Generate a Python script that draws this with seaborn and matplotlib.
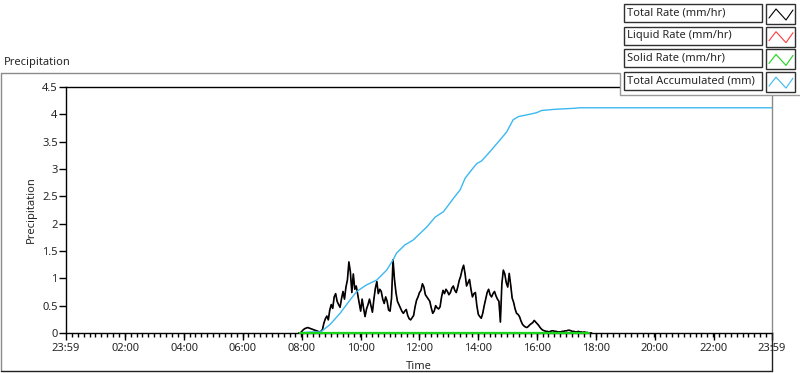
import pandas as pd
import matplotlib
matplotlib.use("Agg")
import matplotlib.pyplot as plt
import matplotlib.dates as mdates
from matplotlib.lines import Line2D
from matplotlib.patches import Rectangle
from matplotlib.ticker import FixedLocator
import seaborn as sns

# --- data ---
start = pd.Timestamp("2020-01-01 23:59")
end = pd.Timestamp("2020-01-02 23:59")
rate_start = pd.Timestamp("2020-01-02 07:54")   # rate samples every 3 min from here

total_rate = [
    0, 0, 0.03, 0.06, 0.08, 0.09, 0.10, 0.09, 0.08, 0.07,
    0.06, 0.05, 0.04, 0.03, 0.02, 0.03, 0.06, 0.18, 0.26, 0.31,
    0.24, 0.42, 0.52, 0.45, 0.66, 0.72, 0.58, 0.52, 0.47, 0.63,
    0.76, 0.62, 0.84, 0.97, 1.30, 1.12, 0.74, 1.08, 0.80, 0.86,
    0.70, 0.55, 0.40, 0.62, 0.45, 0.30, 0.44, 0.52, 0.62, 0.50,
    0.38, 0.62, 0.82, 0.94, 0.72, 0.80, 0.76, 0.62, 0.54, 0.66,
    0.58, 0.42, 0.40, 0.64, 1.34, 0.98, 0.74, 0.58, 0.52, 0.46,
    0.40, 0.36, 0.40, 0.43, 0.32, 0.26, 0.24, 0.28, 0.32, 0.48,
    0.60, 0.66, 0.74, 0.78, 0.90, 0.84, 0.70, 0.66, 0.62, 0.58,
    0.46, 0.36, 0.40, 0.50, 0.46, 0.44, 0.48, 0.66, 0.78, 0.72,
    0.80, 0.76, 0.70, 0.74, 0.82, 0.86, 0.78, 0.74, 0.84, 0.96,
    1.04, 1.16, 1.24, 1.08, 0.86, 0.92, 0.98, 0.80, 0.66, 0.72,
    0.74, 0.50, 0.34, 0.30, 0.27, 0.36, 0.50, 0.62, 0.74, 0.80,
    0.70, 0.66, 0.72, 0.76, 0.68, 0.62, 0.58, 0.20, 0.90, 1.15,
    1.08, 0.92, 0.84, 1.09, 0.88, 0.64, 0.56, 0.44, 0.36, 0.34,
    0.30, 0.22, 0.16, 0.13, 0.11, 0.10, 0.12, 0.15, 0.17, 0.19,
    0.23, 0.20, 0.17, 0.14, 0.10, 0.07, 0.05, 0.04, 0.03, 0.03,
    0.02, 0.03, 0.04, 0.04, 0.03, 0.03, 0.02, 0.02, 0.02, 0.03,
    0.03, 0.04, 0.04, 0.05, 0.05, 0.04, 0.03, 0.03, 0.02, 0.02,
    0.03, 0.02, 0.02, 0.01, 0.02, 0.01, 0.01, 0, 0, 0,
]
liquid_rate = list(total_rate)  # liquid trace sits under the total trace

solid_times = ["2020-01-02 07:57", "2020-01-02 17:45"]
solid_rate = [0.0, 0.0]

# accumulated total, minutes after 08:00
acc_minutes = [-4, 5, 20, 37, 40, 57, 78, 98, 112, 132, 153, 173, 187, 193,
               210, 227, 241, 255, 272, 289, 309, 323, 333, 346, 357, 367,
               384, 404, 418, 431, 442, 459, 479, 489, 513, 554, 567, 959]
acc_values = [0.0, 0.01, 0.02, 0.02, 0.03, 0.15, 0.36, 0.60, 0.76, 0.88, 0.97,
              1.15, 1.35, 1.46, 1.61, 1.70, 1.82, 1.94, 2.12, 2.22, 2.46, 2.62,
              2.83, 2.98, 3.10, 3.15, 3.32, 3.53, 3.68, 3.90, 3.96, 3.99, 4.03,
              4.07, 4.09, 4.11, 4.12, 4.12]

tick_labels = ["23:59", "02:00", "04:00", "06:00", "08:00", "10:00", "12:00",
               "14:00", "16:00", "18:00", "20:00", "22:00", "23:59"]
y_ticks = [0, 0.5, 1, 1.5, 2, 2.5, 3, 3.5, 4, 4.5]
y_labels = ["0", "0.5", "1", "1.5", "2", "2.5", "3", "3.5", "4", "4.5"]

legend_names = ["Total Rate (mm/hr)", "Liquid Rate (mm/hr)",
                "Solid Rate (mm/hr)", "Total Accumulated (mm)"]
legend_colors = ["#000000", "#ff3c3c", "#18d418", "#3cb8f0"]

# --- tables ---
rate_df = pd.DataFrame({
    "time": pd.date_range(rate_start, periods=len(total_rate), freq="3min"),
    "total": total_rate,
    "liquid": liquid_rate,
})
solid_df = pd.DataFrame({"time": pd.to_datetime(solid_times), "solid": solid_rate})
acc_df = pd.DataFrame({
    "time": pd.Timestamp("2020-01-02 08:00") + pd.to_timedelta(acc_minutes, unit="min"),
    "acc": acc_values,
})

sns.set_style("white")
plt.rcParams["font.family"] = ["Noto Sans", "DejaVu Sans"]
plt.rcParams["font.size"] = 8

W, H = 800, 373
fig = plt.figure(figsize=(W / 100, H / 100), dpi=100)
fx = lambda px: px / W
fy = lambda py: 1 - py / H

ax = fig.add_axes([fx(66), fy(333), fx(772) - fx(66), fy(87) - fy(333)])

sns.lineplot(data=rate_df, x="time", y="liquid", color=legend_colors[1],
             linewidth=0.5, estimator=None, ax=ax, zorder=2)
sns.lineplot(data=rate_df, x="time", y="total", color=legend_colors[0],
             linewidth=1.2, estimator=None, ax=ax, zorder=3)
sns.lineplot(data=acc_df, x="time", y="acc", color=legend_colors[3],
             linewidth=1.0, estimator=None, ax=ax, zorder=5)
sns.lineplot(data=solid_df, x="time", y="solid", color=legend_colors[2],
             linewidth=1.6, estimator=None, ax=ax, zorder=6, clip_on=False)

ax.set_xlim(start, end)
ax.set_ylim(0, 4.5)

major = [start] + [pd.Timestamp(f"2020-01-02 {h:02d}:00") for h in range(2, 24, 2)] + [end]
ax.xaxis.set_major_locator(FixedLocator(mdates.date2num(major)))
ax.set_xticklabels(tick_labels)
minor = pd.date_range(start, end, freq="12min")
ax.xaxis.set_minor_locator(FixedLocator(mdates.date2num(minor)))
ax.set_yticks(y_ticks)
ax.set_yticklabels(y_labels)

ax.tick_params(axis="x", which="major", direction="out", length=5, width=1,
               color="black", labelsize=8, pad=2, bottom=True)
ax.tick_params(axis="x", which="minor", direction="out", length=3, width=1,
               color="black", bottom=True)
ax.tick_params(axis="y", which="major", direction="out", length=5, width=1,
               color="black", labelsize=8, pad=1, left=True)

ax.set_xlabel("Time", fontsize=8, labelpad=5)
ax.set_ylabel("Precipitation", fontsize=8, labelpad=4)
ax.legend_ = None

for side in ["top", "left", "bottom"]:
    ax.spines[side].set_color("black")
    ax.spines[side].set_linewidth(1.0)
ax.spines["right"].set_color("#8a8a8a")
ax.spines["right"].set_linewidth(1.0)

# outer panel frame
fig.add_artist(Line2D([fx(1), fx(1)], [fy(73), fy(371)], color="#8a8a8a", lw=1))
fig.add_artist(Line2D([fx(1), fx(772)], [fy(73), fy(73)], color="#8a8a8a", lw=1))
fig.add_artist(Line2D([fx(1), fx(772)], [fy(371), fy(371)], color="#202020", lw=1))
fig.add_artist(Line2D([fx(772), fx(772)], [fy(333), fy(371)], color="#202020", lw=1))

fig.text(fx(4), fy(63), "Precipitation", fontsize=8, ha="left", va="center")

# plot legend panel (top right)
fig.add_artist(Rectangle((fx(620), fy(95)), fx(800) - fx(620), fy(0) - fy(95),
                         facecolor="white", edgecolor="none", zorder=10))
fig.add_artist(Line2D([fx(620), fx(620)], [fy(73), fy(95)], color="#9a9a9a", lw=1, zorder=11))
fig.add_artist(Line2D([fx(620), fx(800)], [fy(95), fy(95)], color="#9a9a9a", lw=1, zorder=11))
for i, (name, col) in enumerate(zip(legend_names, legend_colors)):
    top = 4 + i * 22.7
    bot = top + 18
    fig.add_artist(Rectangle((fx(624), fy(bot)), fx(762) - fx(624), fy(top) - fy(bot),
                             facecolor="white", edgecolor="#303030", lw=1, zorder=12))
    fig.add_artist(Rectangle((fx(766), fy(bot + 2)), fx(795) - fx(766), fy(top) - fy(bot + 2),
                             facecolor="white", edgecolor="#303030", lw=1, zorder=12))
    zx = [769, 776, 786, 793]
    zy = [top + 14, top + 5, top + 16, top + 6]
    fig.add_artist(Line2D([fx(v) for v in zx], [fy(v) for v in zy], color=col,
                          lw=0.8, zorder=13))
    fig.text(fx(627), fy(top + 9), name, fontsize=8, ha="left", va="center", zorder=13)

fig.savefig("out.png", dpi=100)
